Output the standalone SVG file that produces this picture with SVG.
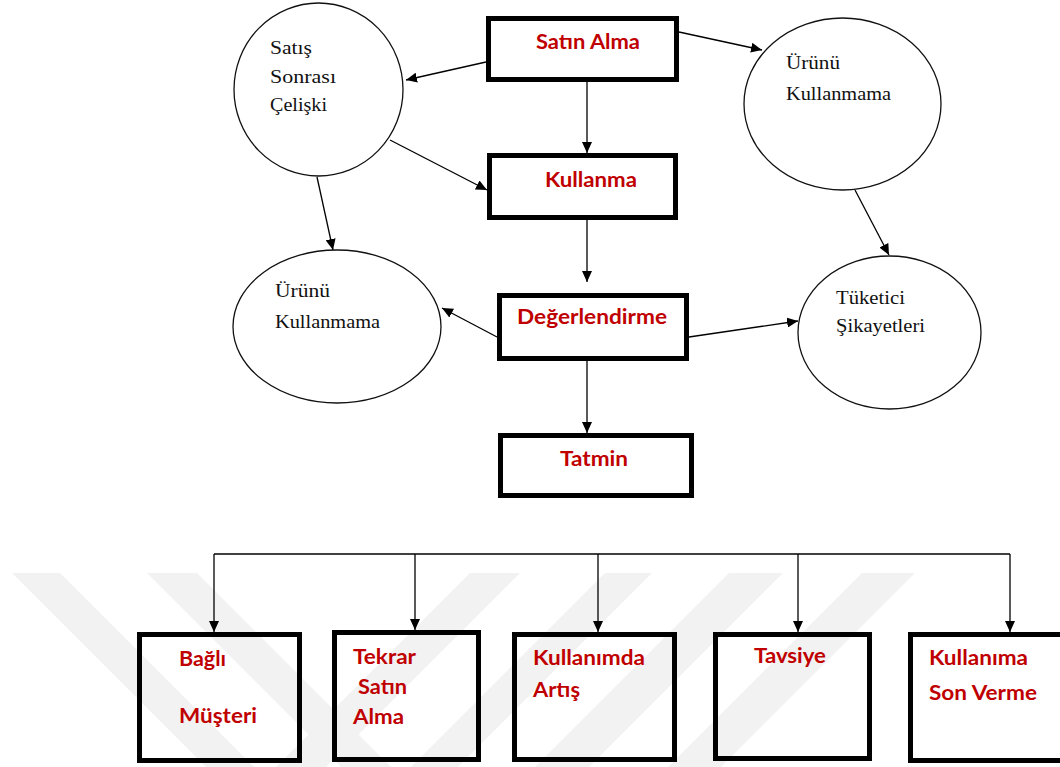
<svg xmlns="http://www.w3.org/2000/svg" width="1060" height="767" viewBox="0 0 1060 767">
  <style>
    .box { fill: none; stroke: #000; stroke-width: 5; }
    .oval { fill: #fff; stroke: #111; stroke-width: 1.3; }
    .lbl { font-family: Lato, "Open Sans", "Liberation Sans", sans-serif; font-weight: bold; font-size: 20px; fill: #c00000; }
    .ser { font-family: "Liberation Serif", "DejaVu Serif", serif; font-size: 19px; fill: #111; }
    .edge { fill: none; stroke: #000; stroke-width: 1.3; }
    .mark { fill: #f2f2f2; }
  </style>
  <defs>
    <marker id="arrow" markerUnits="userSpaceOnUse" markerWidth="11" markerHeight="10" refX="11" refY="5" orient="auto">
      <path d="M0,0 L11,5 L0,10 z" fill="#000"/>
    </marker>
  </defs>

  <rect width="1060" height="767" fill="#fff"/>

  <!-- faint background stripes -->
  <g id="background-stripes">
    <polygon class="mark" points="12,573 60,573 254,767 206,767"/>
    <polygon class="mark" points="147,573 197,573 391,767 341,767"/>
    <polygon class="mark" points="470,573 520,573 326,767 276,767"/>
    <polygon class="mark" points="605,573 652,573 458,767 411,767"/>
    <polygon class="mark" points="729,573 783,573 589,767 535,767"/>
    <polygon class="mark" points="862,573 915,573 721,767 668,767"/>
  </g>

  <!-- connectors -->
  <g id="connectors">
    <line class="edge" x1="486" y1="62" x2="406" y2="80" marker-end="url(#arrow)"/>
    <line class="edge" x1="587" y1="82" x2="587" y2="153" marker-end="url(#arrow)"/>
    <line class="edge" x1="390" y1="140" x2="487" y2="190" marker-end="url(#arrow)"/>
    <line class="edge" x1="317" y1="177" x2="333" y2="250" marker-end="url(#arrow)"/>
    <line class="edge" x1="587" y1="220" x2="587" y2="282" marker-end="url(#arrow)"/>
    <line class="edge" x1="497" y1="337" x2="442" y2="308" marker-end="url(#arrow)"/>
    <line class="edge" x1="689" y1="337" x2="798" y2="321" marker-end="url(#arrow)"/>
    <line class="edge" x1="679" y1="32" x2="762" y2="50" marker-end="url(#arrow)"/>
    <line class="edge" x1="855" y1="190" x2="889" y2="255" marker-end="url(#arrow)"/>
    <line class="edge" x1="587" y1="361" x2="587" y2="433" marker-end="url(#arrow)"/>
    <!-- outcome bus -->
    <line class="edge" x1="214" y1="554" x2="1010" y2="554"/>
    <line class="edge" x1="214" y1="554" x2="214" y2="632" marker-end="url(#arrow)"/>
    <line class="edge" x1="415" y1="554" x2="415" y2="630" marker-end="url(#arrow)"/>
    <line class="edge" x1="598" y1="554" x2="598" y2="632" marker-end="url(#arrow)"/>
    <line class="edge" x1="798" y1="554" x2="798" y2="632" marker-end="url(#arrow)"/>
    <line class="edge" x1="1010" y1="554" x2="1010" y2="632" marker-end="url(#arrow)"/>
  </g>

  <!-- process boxes -->
  <g id="satin-alma">
    <rect class="box" x="488.5" y="18.5" width="188" height="61"/>
    <text class="lbl" x="536" y="49" textLength="104" lengthAdjust="spacingAndGlyphs">Satın Alma</text>
  </g>
  <g id="kullanma">
    <rect class="box" x="489.5" y="155.5" width="186" height="62"/>
    <text class="lbl" x="545" y="187" textLength="92" lengthAdjust="spacingAndGlyphs">Kullanma</text>
  </g>
  <g id="degerlendirme">
    <rect class="box" x="499.5" y="295.5" width="187" height="63"/>
    <text class="lbl" x="517" y="324" textLength="150" lengthAdjust="spacingAndGlyphs">Değerlendirme</text>
  </g>
  <g id="tatmin">
    <rect class="box" x="500.5" y="435.5" width="191" height="60"/>
    <text class="lbl" x="560" y="466" textLength="68" lengthAdjust="spacingAndGlyphs">Tatmin</text>
  </g>

  <!-- ellipse nodes -->
  <g id="satis-sonrasi-celiski">
    <ellipse class="oval" cx="318.5" cy="89.5" rx="84.5" ry="86.5"/>
    <text class="ser" x="270" y="54" textLength="42" lengthAdjust="spacingAndGlyphs">Satış</text>
    <text class="ser" x="270" y="83" textLength="66" lengthAdjust="spacingAndGlyphs">Sonrası</text>
    <text class="ser" x="270" y="111" textLength="57" lengthAdjust="spacingAndGlyphs">Çelişki</text>
  </g>
  <g id="urunu-kullanmama-top">
    <ellipse class="oval" cx="842.5" cy="104" rx="98.5" ry="86"/>
    <text class="ser" x="786" y="69" textLength="54" lengthAdjust="spacingAndGlyphs">Ürünü</text>
    <text class="ser" x="786" y="100" textLength="105" lengthAdjust="spacingAndGlyphs">Kullanmama</text>
  </g>
  <g id="urunu-kullanmama-left">
    <ellipse class="oval" cx="337" cy="326.5" rx="104" ry="76.5"/>
    <text class="ser" x="275" y="297" textLength="55" lengthAdjust="spacingAndGlyphs">Ürünü</text>
    <text class="ser" x="275" y="328" textLength="105" lengthAdjust="spacingAndGlyphs">Kullanmama</text>
  </g>
  <g id="tuketici-sikayetleri">
    <ellipse class="oval" cx="889.5" cy="332.5" rx="91.5" ry="76.5"/>
    <text class="ser" x="836" y="304" textLength="69" lengthAdjust="spacingAndGlyphs">Tüketici</text>
    <text class="ser" x="836" y="332" textLength="89" lengthAdjust="spacingAndGlyphs">Şikayetleri</text>
  </g>

  <!-- outcome boxes -->
  <g id="bagli-musteri">
    <rect class="box" x="139.5" y="634.5" width="160" height="126"/>
    <text class="lbl" x="179" y="666" textLength="47" lengthAdjust="spacingAndGlyphs">Bağlı</text>
    <text class="lbl" x="179" y="723" textLength="78" lengthAdjust="spacingAndGlyphs">Müşteri</text>
  </g>
  <g id="tekrar-satin-alma">
    <rect class="box" x="334.5" y="632.5" width="144" height="127"/>
    <text class="lbl" x="353" y="664" textLength="63" lengthAdjust="spacingAndGlyphs">Tekrar</text>
    <text class="lbl" x="358" y="694" textLength="49" lengthAdjust="spacingAndGlyphs">Satın</text>
    <text class="lbl" x="353" y="724" textLength="51" lengthAdjust="spacingAndGlyphs">Alma</text>
  </g>
  <g id="kullanimda-artis">
    <rect class="box" x="514.5" y="634.5" width="160" height="125"/>
    <text class="lbl" x="533" y="665" textLength="112" lengthAdjust="spacingAndGlyphs">Kullanımda</text>
    <text class="lbl" x="533" y="697" textLength="47" lengthAdjust="spacingAndGlyphs">Artış</text>
  </g>
  <g id="tavsiye">
    <rect class="box" x="715.5" y="634.5" width="154" height="124"/>
    <text class="lbl" x="754" y="663" textLength="72" lengthAdjust="spacingAndGlyphs">Tavsiye</text>
  </g>
  <g id="kullanima-son-verme">
    <rect class="box" x="910.5" y="634.5" width="160" height="126"/>
    <text class="lbl" x="929" y="665" textLength="99" lengthAdjust="spacingAndGlyphs">Kullanıma</text>
    <text class="lbl" x="929" y="700" textLength="108" lengthAdjust="spacingAndGlyphs">Son Verme</text>
  </g>
</svg>
